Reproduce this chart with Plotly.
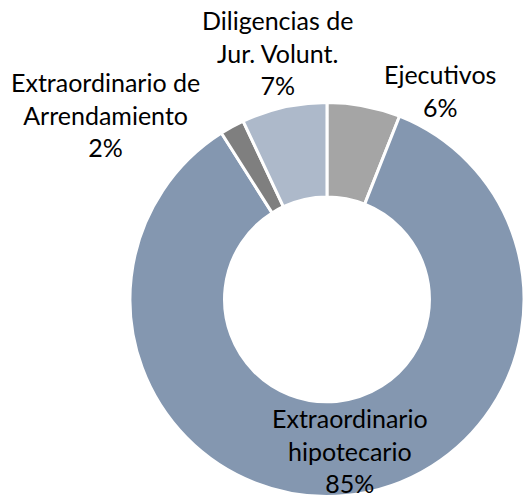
import plotly.graph_objects as go

# Distribución de procedimientos por tipo
categories = ["Ejecutivos", "Extraordinario hipotecario",
              "Extraordinario de Arrendamiento", "Diligencias de Jur. Volunt."]
values = [6, 85, 2, 7]
label_lines = [["Ejecutivos"], ["Extraordinario", "hipotecario"],
               ["Extraordinario de", "Arrendamiento"], ["Diligencias de", "Jur. Volunt."]]
colors = ["#A5A5A5", "#8497B0", "#7F7F7F", "#ADB9CA"]

W, H = 524, 499

fig = go.Figure(go.Pie(
    labels=categories,
    values=values,
    sort=False,
    direction="clockwise",
    rotation=0,
    hole=0.52,
    marker=dict(colors=colors, line=dict(color="white", width=3)),
    textinfo="none",
    hoverinfo="label+percent",
    showlegend=False,
    domain=dict(x=[0.248, 1.0], y=[0.0, 0.80]),
))

# label anchor points (pixels) for each category
label_pos = [(440, 91), (350, 450), (105, 114), (277, 52)]
total = sum(values)
for lines, v, (px, py) in zip(label_lines, values, label_pos):
    text = "<br>".join(lines + [f"{round(100 * v / total)}%"])
    fig.add_annotation(
        x=px / W, y=1 - py / H, xref="paper", yref="paper",
        text=text, showarrow=False, xanchor="center", yanchor="middle",
        font=dict(family="Lato, Carlito, Calibri, sans-serif", size=25, color="black"),
        align="center",
    )

fig.update_layout(
    width=W, height=H,
    margin=dict(l=0, r=0, t=0, b=0, pad=0),
    paper_bgcolor="white",
    plot_bgcolor="white",
)

fig.write_html("out.html")
